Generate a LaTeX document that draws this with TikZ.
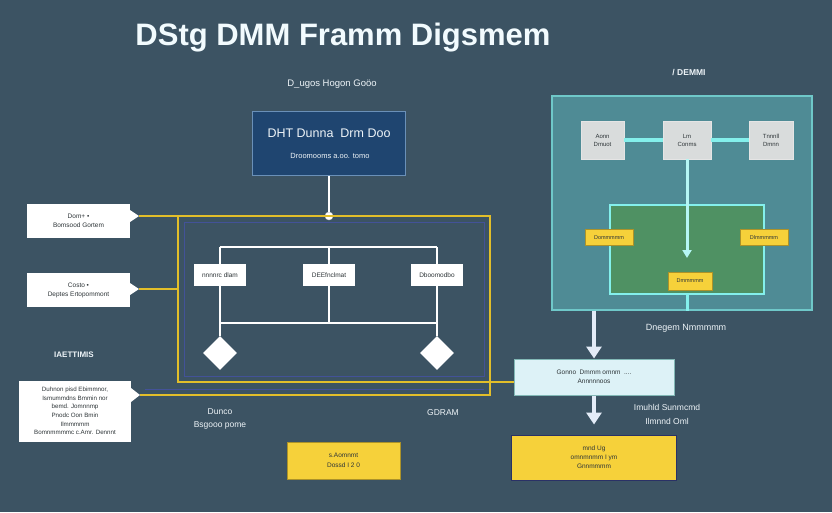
\documentclass[tikz,border=0pt]{standalone}
\usepackage{fontspec}
\setmainfont{Liberation Sans}
\usetikzlibrary{shapes.geometric,arrows.meta}
\definecolor{bg}{HTML}{3C5363}
\definecolor{ylw}{HTML}{E2BE2A}
\definecolor{blu}{HTML}{4652AA}
\definecolor{hdrfill}{HTML}{1F4570}
\definecolor{hdrline}{HTML}{6A90B8}
\definecolor{panelfill}{HTML}{4F8B95}
\definecolor{cyanl}{HTML}{84F0EC}
\definecolor{grnfill}{HTML}{4F9163}
\definecolor{gry}{HTML}{D9DCDC}
\definecolor{gold}{HTML}{F6D13A}
\definecolor{icefill}{HTML}{DDF2F7}
\definecolor{ink}{HTML}{2E3538}
\definecolor{lblc}{HTML}{EEF4F8}
\definecolor{arr}{HTML}{E4ECF8}
\tikzset{
  wbox/.style={fill=white, text=ink, align=center, inner sep=1pt, font=\fontsize{6.5}{9}\selectfont},
  lbl/.style={text=lblc, align=center, inner sep=0pt},
  yl/.style={draw=ylw, line width=1.8pt},
  bl/.style={draw=blu, line width=0.9pt, opacity=0.75},
  tree/.style={draw=white, line width=2.2pt},
  gbox/.style={fill=gry, draw=white!80!gray, text=ink, align=center, font=\fontsize{6}{8}\selectfont, inner sep=1pt},
  ybox/.style={fill=gold, draw=gold!70!black, text=ink, align=center, font=\fontsize{5.5}{7}\selectfont, inner sep=1pt},
  cy/.style={draw=cyanl, line width=3.5pt},
  bigarrow/.style={draw=arr, line width=4pt, -{Triangle[width=15pt,length=12pt]}},
}
\begin{document}
\begin{tikzpicture}[x=1pt,y=-1pt]
\fill[bg] (0,0) rectangle (832,512);
\useasboundingbox (0,0) rectangle (832,512);

% title
\node[text=white!95!cyan, font=\fontsize{31}{34}\selectfont\bfseries, inner sep=0pt] (title) at (343,38) {DStg DMM Framm Digsmem};

% header box
\node[lbl, font=\fontsize{9.5}{11}\selectfont] (hdrlbl) at (332,84) {D\_ugos Hogon Goöo};
\node[fill=hdrfill, draw=hdrline, line width=1pt, minimum width=153pt, minimum height=64pt, inner sep=0pt] (hdr) at (329,143.5) {};
\node[lbl, font=\fontsize{12.5}{14}\selectfont] (hdrt) at (329,133) {DHT Dunna \ Drm Doo};
\node[lbl, font=\fontsize{7.5}{9}\selectfont] (hdrs) at (330,156) {Droomooms a.oo. tomo};
\node[circle, fill=white, draw=white!70!gray, inner sep=0pt, minimum size=8pt] (dot) at (329,216) {};
\draw[draw=white, line width=1.5pt] (hdr) -- (dot);

% left boxes
\node[wbox, minimum width=103pt, minimum height=34pt] (lb1) at (78.5,221) {Dom+ •\\Bomsood Gortem};
\node[wbox, minimum width=103pt, minimum height=34pt] (lb2) at (78.5,290) {Costo •\\Deptes Ertopommont};
\node[lbl, font=\fontsize{8}{9}\selectfont\bfseries] (lb3lbl) at (74,355) {IAETTIMIS};
\node[wbox, minimum width=112pt, minimum height=61pt, font=\fontsize{6.2}{8.6}\selectfont] (lb3) at (75,411) {Duhnon pisd Ebimmnor,\\Ismummdns Bmmin nor\\bemd. Jomnnmp\\Pnodc Oon Bmin\\Ilmmmmm\\Bomnmmmmc c.Amr. Dennnt};
\coordinate (t1) at (139,216);
\coordinate (t2) at (139,289);
\coordinate (t3) at (140,395);
\fill[white] (t1) -- ++(-9,-6) -- ++(0,12) -- cycle;
\fill[white] (t2) -- ++(-9,-6) -- ++(0,12) -- cycle;
\fill[white] (t3) -- ++(-9,-7) -- ++(0,14) -- cycle;

% frame
\coordinate (fTL) at (178,216);
\coordinate (fTR) at (490,216);
\coordinate (fBR) at (490,395);
\coordinate (fBL) at (178,382);
\draw[bl] (184,222) rectangle (484,376);
\draw[bl] (145,389) -- (484,389);
\draw[yl] (t1) -- (fTR) -- (fBR) -- (t3);
\draw[yl] (t2) -- (t2 -| fTL);

% tree
\coordinate (tl) at (220,247);
\coordinate (tm) at (329,247);
\coordinate (tr) at (437,247);
\coordinate (bl) at (220,323);
\coordinate (bm) at (329,323);
\coordinate (br) at (437,323);
\node[wbox, minimum width=52pt, minimum height=22pt] (tb1) at (220,275) {nnnnrc dlam};
\node[wbox, minimum width=52pt, minimum height=22pt] (tb2) at (329,275) {DEEfnclmat};
\node[wbox, minimum width=52pt, minimum height=22pt] (tb3) at (437,275) {Dboomodbo};
\node[diamond, fill=white, inner sep=0pt, minimum width=34pt, minimum height=34pt] (d1) at (220,353) {};
\node[diamond, fill=white, inner sep=0pt, minimum width=34pt, minimum height=34pt] (d2) at (437,353) {};
\draw[tree] (tl) -- (tr);
\draw[tree] (bl) -- (br);
\draw[tree] (tl) -- (tb1) -- (bl) -- (d1);
\draw[tree] (tm) -- (tb2) -- (bm);
\draw[tree] (tr) -- (tb3) -- (br) -- (d2);

% bottom labels and yellow box
\node[lbl, font=\fontsize{8.5}{13}\selectfont] (dunco) at (220,419) {Dunco\\Bsgooo pome};
\node[lbl, font=\fontsize{8.5}{10}\selectfont] (gdram) at (443,413) {GDRAM};
\node[ybox, minimum width=113pt, minimum height=37pt, font=\fontsize{6.5}{10}\selectfont] (yb) at (343.5,460.5) {s.Aomnmt\\Dossd I 2 0};

% right panel
\node[lbl, font=\fontsize{8.5}{10}\selectfont\bfseries] (demmi) at (689,73) {/ DEMMI};
\node[fill=panelfill, draw=cyanl!60!panelfill, line width=1.2pt, minimum width=260pt, minimum height=214pt, inner sep=0pt] (pnl) at (682,203) {};
\node[fill=grnfill, draw=cyanl, line width=2pt, minimum width=154pt, minimum height=89pt, inner sep=0pt] (grn) at (687,249) {};
\node[gbox, minimum width=43pt, minimum height=38pt] (g1) at (602.5,140) {Aonn\\Dmuot};
\node[gbox, minimum width=48pt, minimum height=38pt] (g2) at (687,140) {Lm\\Conms};
\node[gbox, minimum width=44pt, minimum height=38pt] (g3) at (771,140) {Tnnnll\\Dmnn};
\draw[cy] (g1) -- (g2);
\draw[cy] (g2) -- (g3);
\coordinate (gtip) at (687,258);
\draw[draw=cyanl!60!white, line width=3pt, -{Triangle[width=9pt,length=8pt]}] (g2) -- (gtip);
\node[ybox, minimum width=48pt, minimum height=16pt] (y1) at (609,237.5) {Dommmmm};
\node[ybox, minimum width=48pt, minimum height=16pt] (y2) at (764,237.5) {Dlmmmmm};
\node[ybox, minimum width=44pt, minimum height=18pt] (y3) at (690,281) {Dmmmmm};
\draw[draw=cyanl, line width=3pt] (grn.south) -- (grn.south |- pnl.south);

% lower right
\node[lbl, font=\fontsize{9}{10}\selectfont] (dneg) at (686,328) {Dnegem Nmmmmm};
\node[fill=icefill, draw=cyanl!50!gray, line width=1pt, text=ink, align=center, font=\fontsize{6.5}{9}\selectfont, minimum width=160pt, minimum height=36pt, inner sep=1pt] (ice) at (594,377) {Gonno \ Dmmm omnm \ ....\\Annnnnoos};
\node[fill=gold, draw=blu!60!black, line width=1pt, text=ink, align=center, font=\fontsize{6.5}{9}\selectfont, minimum width=165pt, minimum height=45pt, inner sep=1pt] (fin) at (594,457.5) {mnd Ug\\omnmnmm I ym\\Gnnmmmm};
\node[lbl, font=\fontsize{8.5}{14}\selectfont] (imuh) at (667,414) {Imuhld Sunmcmd\\Ilmnnd Oml};
\draw[yl] (fTL) -- (fBL) -- (fBL -| ice.west);
\draw[bigarrow] (ice.north |- pnl.south) -- (ice.north);
\draw[bigarrow] (ice.south) -- ([yshift=10pt]fin.north);
\end{tikzpicture}
\end{document}
